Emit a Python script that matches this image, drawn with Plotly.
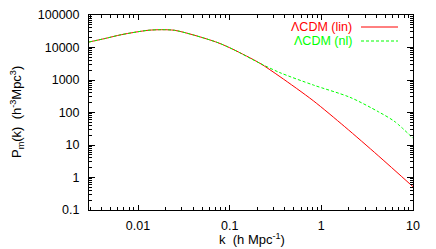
import plotly.graph_objects as go
import math

k_lin = [0.00292, 0.00437, 0.00658, 0.01285, 0.01795, 0.0251, 0.0415, 0.0745, 0.1086, 0.214, 0.354, 0.817, 1.80, 4.18, 10.0]
p_lin = [14770, 18900, 24800, 33800, 35300, 33800, 23700, 14060, 8810, 3265, 1265, 230, 36.6, 4.68, 0.52]
k_nl = [0.00292, 0.00437, 0.00658, 0.01285, 0.01795, 0.0251, 0.0415, 0.0745, 0.1086, 0.214, 0.354, 0.817, 2.05, 4.18, 6.35, 10.0]
p_nl = [14770, 18900, 24800, 33800, 35300, 33800, 23700, 14060, 8810, 3265, 1680, 701, 294, 106, 52, 16.1]

y_ticks = [0.1, 1, 10, 100, 1000, 10000, 100000]
y_tick_text = ["0.1", "1", "10", "100", "1000", "10000", "100000"]
x_ticks = [0.01, 0.1, 1, 10]
x_tick_text = ["0.01", "0.1", "1", "10"]

series_names = ["ΛCDM (lin)", "ΛCDM (nl)"]
colors = ["#ff0000", "#00ff00"]

W, H = 436, 249
L, R, T, B = 89, 23, 15, 39

fig = go.Figure()
fig.add_trace(go.Scatter(x=k_lin, y=p_lin, mode="lines", line=dict(color=colors[0], width=1, shape="spline", smoothing=0.8), showlegend=False))
fig.add_trace(go.Scatter(x=k_nl, y=p_nl, mode="lines", line=dict(color=colors[1], width=1, dash="3px,2px", shape="spline", smoothing=0.8), showlegend=False))

font = dict(family="Liberation Sans, Arial, sans-serif", size=12.5, color="black")

fig.update_layout(
    width=W, height=H,
    margin=dict(l=L, r=R, t=T, b=B, autoexpand=False),
    paper_bgcolor="white", plot_bgcolor="white",
    font=font,
    hovermode=False,
    xaxis=dict(type="log", range=[math.log10(0.00292), 1], tickvals=x_ticks, ticktext=x_tick_text,
               ticks="inside", ticklen=5, tickcolor="black", showline=True, linecolor="black", linewidth=1,
               mirror="allticks", showgrid=False, zeroline=False, ticklabelstandoff=4, automargin=False,
               minor=dict(ticks="inside", ticklen=3, tickcolor="black", dtick="D1", showgrid=False)),
    yaxis=dict(type="log", range=[-1, 5], tickvals=y_ticks, ticktext=y_tick_text,
               ticks="inside", ticklen=6, tickcolor="black", showline=True, linecolor="black", linewidth=1,
               mirror="allticks", showgrid=False, zeroline=False, ticklabelstandoff=6, automargin=False,
               minor=dict(ticks="inside", ticklen=3, tickcolor="black", dtick="D1", showgrid=False)),
)

pw = W - L - R
ph = H - T - B
def px(x):
    return (x - L) / pw
def py(y):
    return 1 - (y - T) / ph

title_font = dict(family=font["family"], size=13, color="black")

# legend (gnuplot style)
for i, (name, c, yy) in enumerate(zip(series_names, colors, [27, 41])):
    fig.add_annotation(x=px(353), y=py(yy), xref="paper", yref="paper", text=name, showarrow=False,
                       xanchor="right", yanchor="middle", borderpad=0,
                       font=dict(family=font["family"], size=12.5, color=c))
    fig.add_shape(type="line", xref="paper", yref="paper", x0=px(361), x1=px(398), y0=py(yy), y1=py(yy),
                  line=dict(color=c, width=1, dash="solid" if i == 0 else "3px,2px"))

fig.add_annotation(x=px(252), y=py(239), xref="paper", yref="paper", text="k  (h Mpc<sup>-1</sup>)",
                   showarrow=False, xanchor="center", yanchor="middle", font=title_font)
fig.add_annotation(x=px(17), y=py(112), xref="paper", yref="paper", text="P<sub>m</sub>(k)  (h<sup>-3</sup>Mpc<sup>3</sup>)",
                   showarrow=False, xanchor="center", yanchor="middle", textangle=-90, font=title_font)

fig.write_html("out.html", config={"displayModeBar": False, "staticPlot": True},
               post_script="document.body.style.margin='0';document.body.style.overflow='hidden';")
